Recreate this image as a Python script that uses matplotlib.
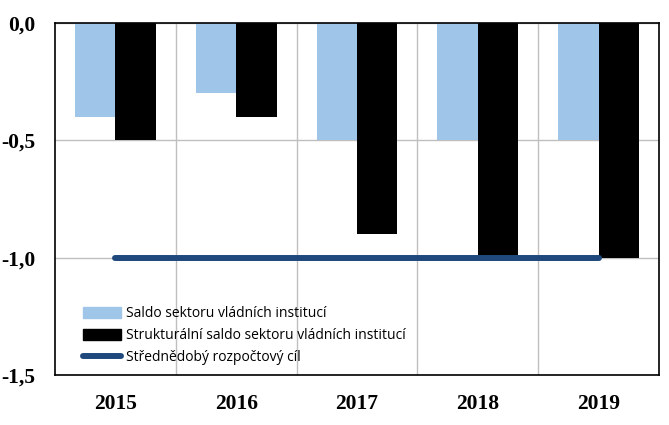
import numpy as np
import matplotlib.pyplot as plt
from matplotlib.patches import Patch
from matplotlib.lines import Line2D

years = ['2015', '2016', '2017', '2018', '2019']
saldo = [-0.4, -0.3, -0.5, -0.5, -0.5]            # Saldo sektoru vládních institucí
strukt = [-0.5, -0.4, -0.9, -1.0, -1.0]           # Strukturální saldo
mtc = [-1.0, -1.0, -1.0, -1.0, -1.0]              # Střednědobý rozpočtový cíl
labels = ['Saldo sektoru vládních institucí',
          'Strukturální saldo sektoru vládních institucí',
          'Střednědobý rozpočtový cíl']

c_light = '#9FC5E8'
c_dark = '#1F497D'

fig = plt.figure(figsize=(6.69, 4.25), dpi=100)
ax = fig.add_axes([55/669, 1-375/425, 604/669, 352/425])

x = np.arange(len(years))
w = 0.335
ax.bar(x - w/2, saldo, w, color=c_light, zorder=2)
ax.bar(x + w/2, strukt, w, color='black', zorder=2)
ax.plot(x, mtc, color=c_dark, lw=4.3, solid_capstyle='round', zorder=3)

ax.set_xlim(-0.5, len(years) - 0.5)
ax.set_ylim(-1.5, 0)
ax.set_yticks([0, -0.5, -1.0, -1.5])
ax.set_yticklabels(['0,0', '-0,5', '-1,0', '-1,5'])
ax.set_xticks(x)
ax.set_xticklabels(years)
ax.set_xticks(x[:-1] + 0.5, minor=True)
ax.grid(axis='y', color='#BFBFBF', lw=1, zorder=0)
ax.grid(axis='x', which='minor', color='#BFBFBF', lw=1, zorder=0)
ax.grid(axis='x', which='major', visible=False)
ax.tick_params(which='both', length=0)
ax.tick_params(axis='y', pad=14)
ax.tick_params(axis='x', pad=14)
for lab in ax.get_xticklabels() + ax.get_yticklabels():
    lab.set_fontfamily('Liberation Serif')
    lab.set_fontweight('bold')
    lab.set_fontsize(15.5)
for s in ax.spines.values():
    s.set_color('black')
    s.set_linewidth(1.2)

handles = [Patch(color=c_light), Patch(color='black'),
           Line2D([0], [0], color=c_dark, lw=4.3, solid_capstyle='round')]
leg = ax.legend(handles, labels, loc='lower left', bbox_to_anchor=(0.025, -0.008),
                frameon=False, handlelength=2.8, handleheight=0.8, handletextpad=0.3,
                labelspacing=0.5, prop={'family': 'Open Sans', 'size': 10})
leg.set_zorder(5)

fig.savefig('out.png', dpi=100)
